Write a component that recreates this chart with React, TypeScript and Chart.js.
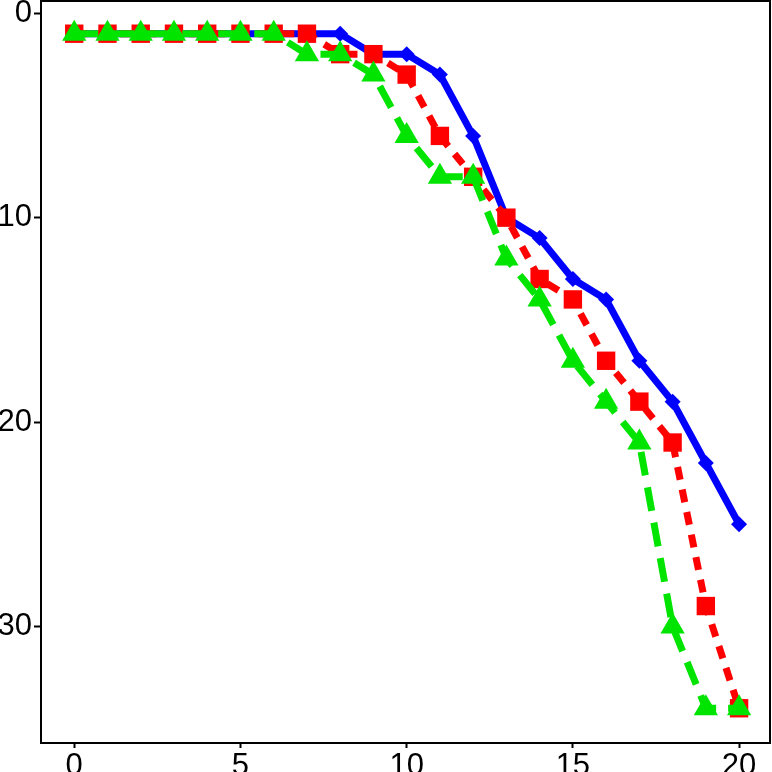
import { useEffect, useRef } from 'react';
import { Chart, registerables } from 'chart.js';
import type { Plugin } from 'chart.js';

Chart.register(...registerables);

const xValues = [0, 1, 2, 3, 4, 5, 6, 7, 8, 9, 10, 11, 12, 13, 14, 15, 16, 17, 18, 19, 20];
const blueValues = [1, 1, 1, 1, 1, 1, 1, 1, 1, 2, 2, 3, 6, 10, 11, 13, 14, 17, 19, 22, 25];
const redValues = [1, 1, 1, 1, 1, 1, 1, 1, 2, 2, 3, 6, 8, 10, 13, 14, 17, 19, 21, 29, 34];
const greenValues = [1, 1, 1, 1, 1, 1, 1, 2, 2, 3, 6, 8, 8, 12, 14, 17, 19, 21, 30, 34, 34];
const xTickValues = [0, 5, 10, 15, 20];
const yTickValues = [0, 10, 20, 30];

const toPoints = (ys: number[]) => xValues.map((x, i) => ({ x, y: ys[i] }));

const frame: Plugin = {
  id: 'frame',
  afterDraw(chart) {
    const { ctx, chartArea: a } = chart;
    ctx.save();
    ctx.strokeStyle = '#000';
    ctx.lineWidth = 2;
    ctx.strokeRect(a.left, a.top, a.right - a.left, a.bottom - a.top);
    ctx.restore();
  },
};

export default function App() {
  const canvasRef = useRef<HTMLCanvasElement>(null);
  const chartRef = useRef<Chart | null>(null);

  useEffect(() => {
    document.body.style.margin = '0';
    if (!canvasRef.current) return;
    chartRef.current?.destroy();

    const font = { family: '"Liberation Sans", Arial, sans-serif', size: 31 };

    chartRef.current = new Chart(canvasRef.current, {
      type: 'line',
      data: {
        datasets: [
          {
            data: toPoints(blueValues),
            borderColor: '#0000FF',
            backgroundColor: '#0000FF',
            borderWidth: 7,
            pointStyle: 'rectRot',
            pointRadius: 8,
            pointBorderWidth: 0,
            order: 3,
          },
          {
            data: toPoints(redValues),
            borderColor: '#FF0000',
            backgroundColor: '#FF0000',
            borderWidth: 7,
            borderDash: [13, 10],
            pointStyle: 'rect',
            pointRadius: 13,
            pointBorderWidth: 0,
            order: 2,
          },
          {
            data: toPoints(greenValues),
            borderColor: '#00E400',
            backgroundColor: '#00E400',
            borderWidth: 7,
            borderDash: [24, 12],
            pointStyle: 'triangle',
            pointRadius: 14,
            pointBorderWidth: 0,
            order: 1,
          },
        ],
      },
      options: {
        responsive: false,
        animation: false,
        devicePixelRatio: 1,
        layout: { autoPadding: false, padding: { top: 1, right: 2, left: 0, bottom: 0 } },
        plugins: {
          legend: { display: false },
          tooltip: { enabled: false },
        },
        scales: {
          x: {
            type: 'linear',
            min: -1,
            max: 20.93,
            afterBuildTicks: (s) => {
              s.ticks = xTickValues.map((value) => ({ value }));
            },
            afterFit: (s) => {
              s.height = 29;
              s.paddingLeft = 0;
              s.paddingRight = 0;
            },
            border: { display: false },
            grid: { drawOnChartArea: false, drawTicks: true, tickLength: 5, tickWidth: 2, color: '#000' },
            ticks: { color: '#000', font, padding: 0, maxRotation: 0 },
          },
          y: {
            type: 'linear',
            reverse: true,
            min: -0.6,
            max: 35.7,
            afterBuildTicks: (s) => {
              s.ticks = yTickValues.map((value) => ({ value }));
            },
            afterFit: (s) => {
              s.width = 41;
              s.paddingTop = 0;
              s.paddingBottom = 0;
            },
            border: { display: false },
            grid: { drawOnChartArea: false, drawTicks: true, tickLength: 7, tickWidth: 2, color: '#000' },
            ticks: { color: '#000', font, padding: 2 },
          },
        },
      },
      plugins: [frame],
    });

    return () => {
      chartRef.current?.destroy();
      chartRef.current = null;
    };
  }, []);

  return (
    <div style={{ width: 772, height: 772 }}>
      <canvas ref={canvasRef} width={772} height={772} />
    </div>
  );
}
